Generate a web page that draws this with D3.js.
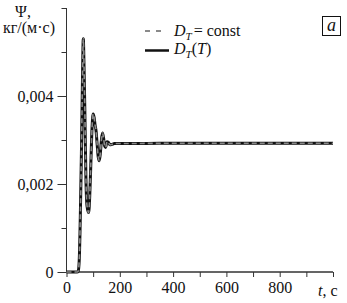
<!DOCTYPE html>
<html>
<head>
<meta charset="utf-8">
<script src="https://cdn.jsdelivr.net/npm/d3@7"></script>
<style>
  body { margin: 0; background: #fff; }
</style>
</head>
<body>
<svg id="chart" width="347" height="303"></svg>
<script>
// Ψ(t)
const tValues = [0, 40, 44, 48, 52, 56, 60, 63, 66, 69, 73, 77, 83, 87, 91, 96, 100, 104, 107, 111, 115, 119, 123, 127, 131, 135, 139, 143, 147, 152, 157, 163, 170, 180, 200, 400, 600, 800, 1000];
const psiConst = [0, 0, 0.00002, 0.0003, 0.0013, 0.0027, 0.0044, 0.0053, 0.0046, 0.0036, 0.0021, 0.0015, 0.00135, 0.0017, 0.0024, 0.0033, 0.00359, 0.0035, 0.00335, 0.0032, 0.0029, 0.00262, 0.00253, 0.0027, 0.003, 0.00316, 0.00305, 0.00287, 0.00283, 0.00296, 0.00295, 0.00289, 0.0029, 0.00292, 0.00292, 0.002925, 0.002925, 0.002925, 0.002925];
const psiT = [0, 0, 0.00002, 0.0003, 0.0013, 0.0027, 0.0044, 0.0053, 0.0046, 0.0036, 0.0021, 0.0015, 0.00135, 0.0017, 0.0024, 0.0033, 0.00359, 0.0035, 0.00335, 0.0032, 0.0029, 0.00262, 0.00253, 0.0027, 0.003, 0.00316, 0.00305, 0.00287, 0.00283, 0.00296, 0.00295, 0.00289, 0.0029, 0.00292, 0.00292, 0.002925, 0.002925, 0.002925, 0.002925];

const xMajor = [0, 200, 400, 600, 800];
const xMinor = [100, 300, 500, 700, 900, 1000];
const yMajor = [0, 0.002, 0.004];
const yMinor = [0.001, 0.003, 0.005, 0.006];

const FONT = '"Liberation Serif", serif';
const svg = d3.select('#chart');
const margin = { left: 66.5, right: 14, top: 8, bottom: 31 };
const W = 347, H = 303;

const x = d3.scaleLinear().domain([0, 1000]).range([margin.left, W - margin.right]);
const y = d3.scaleLinear().domain([0, 0.006]).range([H - margin.bottom, margin.top]);

const fmt = d => d === 0 ? '0' : d3.format('.3f')(d).replace('.', ',');

// axes
const gx = svg.append('g').attr('transform', `translate(0,${y(0)})`);
gx.call(d3.axisBottom(x).tickValues(xMajor).tickSize(5).tickPadding(5).tickFormat(d => d));
gx.append('g').call(d3.axisBottom(x).tickValues(xMinor).tickSize(5).tickFormat(''));

const gy = svg.append('g').attr('transform', `translate(${x(0)},0)`);
gy.call(d3.axisLeft(y).tickValues(yMajor).tickSize(9).tickPadding(4).tickFormat(fmt));
gy.append('g').call(d3.axisLeft(y).tickValues(yMinor).tickSize(5).tickFormat(''));

svg.selectAll('.domain').attr('stroke', '#333');
svg.selectAll('.tick line').attr('stroke', '#333');
svg.selectAll('.tick text').attr('font-size', 16).attr('font-family', FONT).attr('fill', '#111');
gy.selectAll('.domain').attr('d', `M0,${y(0.006)}V${y(0)}`);
gx.selectAll('.domain').attr('d', `M${x(0)},0H${x(1000)}`);

// axis titles
svg.append('text').attr('x', 23).attr('y', 17).attr('text-anchor', 'middle')
  .attr('font-family', FONT).attr('font-size', 16).attr('fill', '#111').text('Ψ,');
svg.append('text').attr('x', 29).attr('y', 33).attr('text-anchor', 'middle')
  .attr('font-family', FONT).attr('font-size', 16).attr('fill', '#111').text('кг/(м·с)');
const tl = svg.append('text').attr('x', 318).attr('y', 296)
  .attr('font-family', FONT).attr('font-size', 16).attr('fill', '#111');
tl.append('tspan').attr('font-style', 'italic').text('t');
tl.append('tspan').text(', c');

// curves
const line = d3.line().x(d => x(d[0])).y(d => y(d[1])).curve(d3.curveMonotoneX);
svg.append('path').datum(tValues.map((t, i) => [t, psiT[i]]))
  .attr('d', line).attr('fill', 'none').attr('stroke', '#111').attr('stroke-width', 3);
svg.append('path').datum(tValues.map((t, i) => [t, psiConst[i]]))
  .attr('d', line).attr('fill', 'none').attr('stroke', '#8a8a8a').attr('stroke-width', 1.6)
  .attr('stroke-dasharray', '5,3');

// legend
const lg = svg.append('g');
lg.append('line').attr('x1', 145).attr('x2', 164).attr('y1', 31).attr('y2', 31)
  .attr('stroke', '#8a8a8a').attr('stroke-width', 2.2).attr('stroke-dasharray', '5,6');
lg.append('line').attr('x1', 145).attr('x2', 169).attr('y1', 50.5).attr('y2', 50.5)
  .attr('stroke', '#111').attr('stroke-width', 2.5);
const l1 = lg.append('text').attr('x', 174).attr('y', 36)
  .attr('font-family', FONT).attr('font-size', 16).attr('fill', '#111');
l1.append('tspan').attr('font-style', 'italic').text('D');
l1.append('tspan').attr('font-style', 'italic').attr('font-size', 11).attr('dy', 4).text('T');
l1.append('tspan').attr('dy', -4).attr('dx', 2).text('= const');
const l2 = lg.append('text').attr('x', 174).attr('y', 54)
  .attr('font-family', FONT).attr('font-size', 16).attr('fill', '#111');
l2.append('tspan').attr('font-style', 'italic').text('D');
l2.append('tspan').attr('font-style', 'italic').attr('font-size', 11).attr('dy', 4).text('T');
l2.append('tspan').attr('dy', -4).text('(');
l2.append('tspan').attr('font-style', 'italic').text('T');
l2.append('tspan').text(')');

// panel label
svg.append('rect').attr('x', 322.5).attr('y', 16.5).attr('width', 18).attr('height', 19)
  .attr('fill', 'none').attr('stroke', '#111').attr('stroke-width', 1);
svg.append('text').attr('x', 331.5).attr('y', 31).attr('text-anchor', 'middle')
  .attr('font-family', FONT).attr('font-size', 18).attr('font-style', 'italic')
  .attr('fill', '#111').text('a');
</script>
</body>
</html>
